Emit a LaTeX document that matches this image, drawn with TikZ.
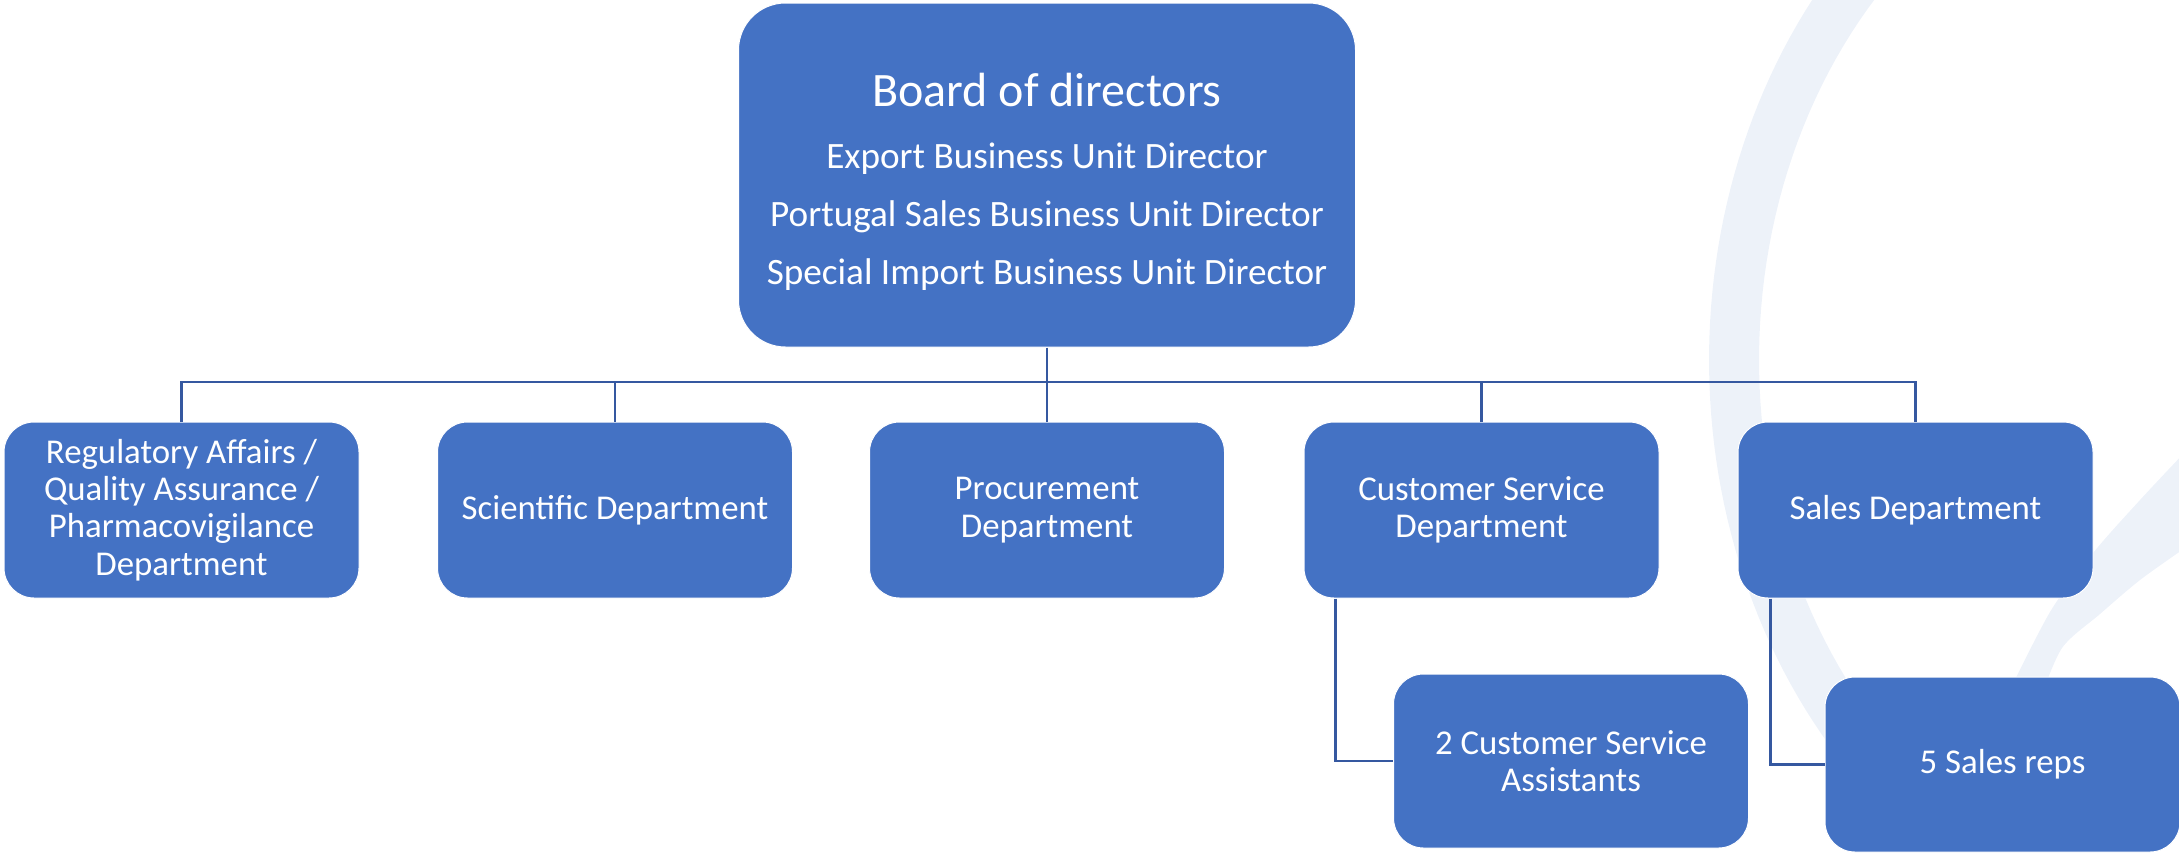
\documentclass[tikz,border=0pt]{standalone}
\usepackage{fontspec}
\setmainfont{Carlito}
\definecolor{boxblue}{HTML}{4472C4}
\definecolor{linkblue}{HTML}{3558A0}
\definecolor{bgswoosh}{HTML}{EDF2F9}
\tikzset{
  orgbox/.style={draw=white, line width=0.5pt, fill=boxblue, text=white,
    rounded corners=15pt, minimum width=177.5pt, minimum height=88pt,
    inner sep=0pt, align=center, font=\fontsize{17.4pt}{18.7pt}\selectfont},
  topbox/.style={orgbox, rounded corners=23.5pt, minimum width=308.5pt, minimum height=172pt,
    font=\fontsize{18.6pt}{20pt}\selectfont},
  link/.style={draw=linkblue, line width=1.2pt}
}
\begin{document}
\begin{tikzpicture}[x=0.5pt, y=-0.5pt]
\useasboundingbox (0,0) rectangle (2179,852);
% background swoosh (big arc)
\fill[bgswoosh] plot[domain=-39:48, samples=60, variable=\t] ({2209-500*cos(\t)}, {360+592*sin(\t)})
  -- plot[domain=54.7:-44, samples=60, variable=\t] ({2209-450*cos(\t)}, {360+539*sin(\t)}) -- cycle;
% background swoosh (wedge)
\fill[bgswoosh] plot[smooth] coordinates {(2185,452) (2140,500) (2093,553) (2050,612) (2005,700)}
  -- plot[smooth] coordinates {(2040,700) (2062,648) (2100,614) (2140,580) (2185,548)} -- cycle;
% nodes
\node[topbox] (board) at (1047,175) {\rule{0pt}{23pt}{\fontsize{24pt}{28pt}\selectfont Board of directors}\\[11pt]
  Export Business Unit Director\\[9pt]
  Portugal Sales Business Unit Director\\[9pt]
  Special Import Business Unit Director};
\node[orgbox] (c1) at (181.5,510) {Regulatory Affairs /\\Quality Assurance /\\Pharmacovigilance\\Department};
\node[orgbox] (c2) at (615,510) {Scientific Department};
\node[orgbox] (c3) at (1047,510) {Procurement\\Department};
\node[orgbox] (c4) at (1481.5,510) {Customer Service\\Department};
\node[orgbox] (c5) at (1915.5,510) {Sales Department};
\node[orgbox, minimum height=87pt] (cs1) at (1571,761) {2 Customer Service\\Assistants};
\node[orgbox, minimum height=87.5pt] (sr1) at (2002.5,764.5) {5 Sales reps};
% connectors
\coordinate (bus) at (1047,382);
\draw[link] (board.south) -- (bus);
\draw[link] (bus) -| (c1.north);
\draw[link] (bus) -| (c2.north);
\draw[link] (bus) -- (c3.north);
\draw[link] (bus) -| (c4.north);
\draw[link] (bus) -| (c5.north);
\draw[link] (c4.south west) ++(32,0) |- (cs1.west);
\draw[link] (c5.south west) ++(33,0) |- (sr1.west);
\end{tikzpicture}
\end{document}
